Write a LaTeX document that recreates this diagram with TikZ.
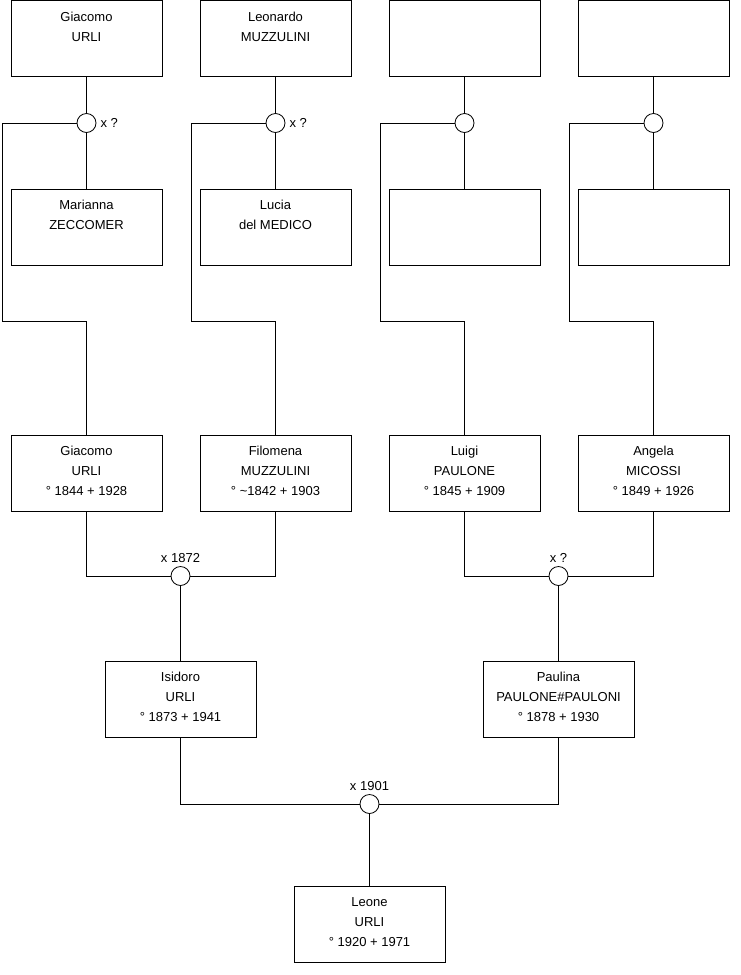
\documentclass[tikz,border=0pt]{standalone}
\usepackage{fontspec}
\setmainfont{Liberation Sans}
\usetikzlibrary{positioning}
\tikzset{
  person/.style = {
    rectangle, draw=black, line width=0.8pt,
    minimum width=151pt, minimum height=76pt, inner sep=0pt
  },
  ptext/.style = {
    anchor=north, yshift=-11.5pt, align=center, inner sep=0pt,
    font=\fontsize{13}{20}\selectfont
  },
  who/.style = {label={[ptext]north:{#1}}},
  union/.style = {
    circle, draw=black, line width=0.8pt, fill=white,
    minimum size=19pt, inner sep=0pt
  },
  ulabel/.style = {font=\fontsize{13}{15}\selectfont, inner sep=1pt},
  link/.style = {draw=black, line width=0.8pt}
}

\begin{document}
\begin{tikzpicture}[x=1pt, y=-1pt]
  \useasboundingbox (0,0) rectangle (740,975);
  % Great-grandparents, fathers' side
  \node[person, who={Giacomo\\URLI}]       (giacomoS)   at (86.5,38.5)  {};
  \node[person, who={Leonardo\\MUZZULINI}] (leonardo)   at (275.5,38.5) {};
  \node[person]                            (unknownA)   at (464.5,38.5) {};
  \node[person]                            (unknownB)   at (653.5,38.5) {};
  % Great-grandparents, mothers' side
  \node[person, who={Marianna\\ZECCOMER}]  (marianna)   at (86.5,227)   {};
  \node[person, who={Lucia\\del MEDICO}]   (lucia)      at (275.5,227)  {};
  \node[person]                            (unknownC)   at (464.5,227)  {};
  \node[person]                            (unknownD)   at (653.5,227)  {};
  % Their marriages
  \node[union] (uGiacomoS) at (86.5,123)  {};
  \node[union] (uLeonardo) at (275.5,123) {};
  \node[union] (uUnknownA) at (464.5,123) {};
  \node[union] (uUnknownB) at (653.5,123) {};
  \node[ulabel, anchor=west, right=3pt of uGiacomoS] {x ?};
  \node[ulabel, anchor=west, right=3pt of uLeonardo] {x ?};
  % Grandparents
  \node[person, who={Giacomo\\URLI\\° 1844 + 1928}]
    (giacomo)  at (86.5,473)  {};
  \node[person, who={Filomena\\MUZZULINI\\° \textasciitilde1842 + 1903}]
    (filomena) at (275.5,473) {};
  \node[person, who={Luigi\\PAULONE\\° 1845 + 1909}]
    (luigi)    at (464.5,473) {};
  \node[person, who={Angela\\MICOSSI\\° 1849 + 1926}]
    (angela)   at (653.5,473) {};
  \node[union] (uGiacomo) at (180.5,576) {};
  \node[union] (uLuigi)   at (558.5,576) {};
  \node[ulabel, above=2pt of uGiacomo] {x 1872};
  \node[ulabel, above=2pt of uLuigi]   {x ?};
  % Parents
  \node[person, who={Isidoro\\URLI\\° 1873 + 1941}]
    (isidoro) at (180.5,699) {};
  \node[person, who={Paulina\\PAULONE\#PAULONI\\° 1878 + 1930}]
    (paulina) at (558.5,699) {};
  \node[union] (uIsidoro) at (369.5,804) {};
  \node[ulabel, above=2pt of uIsidoro] {x 1901};
  % Child
  \node[person, who={Leone\\URLI\\° 1920 + 1971}]
    (leone) at (369.5,924) {};
  % Lines of descent
  \foreach \p/\m/\u/\c/\x in {giacomoS/marianna/uGiacomoS/giacomo/2,
                              leonardo/lucia/uLeonardo/filomena/191,
                              unknownA/unknownC/uUnknownA/luigi/380,
                              unknownB/unknownD/uUnknownB/angela/569}{
    \draw[link] (\p.south) -- (\u.north);
    \draw[link] (\u.south) -- (\m.north);
    \draw[link] (\u.west) -| (\x,321) -| (\c.north);
  }
  \draw[link] (giacomo.south)  |- (uGiacomo.west);
  \draw[link] (filomena.south) |- (uGiacomo.east);
  \draw[link] (uGiacomo.south) -- (isidoro.north);
  \draw[link] (luigi.south)    |- (uLuigi.west);
  \draw[link] (angela.south)   |- (uLuigi.east);
  \draw[link] (uLuigi.south)   -- (paulina.north);
  \draw[link] (isidoro.south)  |- (uIsidoro.west);
  \draw[link] (paulina.south)  |- (uIsidoro.east);
  \draw[link] (uIsidoro.south) -- (leone.north);
\end{tikzpicture}
\end{document}
